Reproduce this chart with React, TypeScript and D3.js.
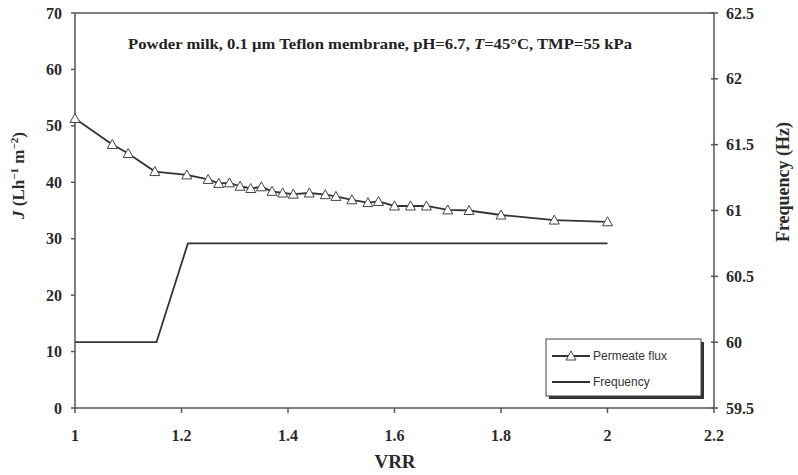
import React from "react";
import * as d3 from "d3";

const fluxVRR = [1.0, 1.07, 1.1, 1.15, 1.21, 1.25, 1.27, 1.29, 1.31, 1.33, 1.35, 1.37, 1.39, 1.41, 1.44, 1.47, 1.49, 1.52, 1.55, 1.57, 1.6, 1.63, 1.66, 1.7, 1.74, 1.8, 1.9, 2.0];
const fluxJ = [51.3, 46.7, 45.1, 41.9, 41.3, 40.5, 39.8, 39.9, 39.3, 38.9, 39.2, 38.4, 38.1, 37.9, 38.1, 37.8, 37.5, 36.9, 36.4, 36.6, 35.8, 35.8, 35.8, 35.1, 35.0, 34.2, 33.3, 33.0];
const freqVRR = [1.0, 1.153, 1.212, 2.0];
const freqHz = [60, 60, 60.75, 60.75];
const xTicks = [1, 1.2, 1.4, 1.6, 1.8, 2, 2.2];
const yLeftTicks = [0, 10, 20, 30, 40, 50, 60, 70];
const yRightTicks = [59.5, 60, 60.5, 61, 61.5, 62, 62.5];

const W = 798, H = 475;
const L = 75, R = 714, T = 13, B = 408;

export default function App() {
  const x = d3.scaleLinear().domain([1, 2.2]).range([L, R]);
  const yL = d3.scaleLinear().domain([0, 70]).range([B, T]);
  const yR = d3.scaleLinear().domain([59.5, 62.5]).range([B, T]);
  const flux = fluxVRR.map((v, i) => [v, fluxJ[i]] as [number, number]);
  const freq = freqVRR.map((v, i) => [v, freqHz[i]] as [number, number]);
  const fluxLine = d3.line<[number, number]>().x(d => x(d[0])).y(d => yL(d[1]))(flux) || "";
  const freqLine = d3.line<[number, number]>().x(d => x(d[0])).y(d => yR(d[1]))(freq) || "";
  const tri = (cx: number, cy: number, s = 5) => `M${cx},${cy - s}L${cx + s},${cy + s * 0.8}L${cx - s},${cy + s * 0.8}Z`;
  const serif = "'Liberation Serif', 'Times New Roman', serif";
  const sans = "'Liberation Sans', Arial, sans-serif";
  const axisColor = "#555";
  const lineColor = "#333";
  const tickFs = 16;
  return (
    <svg width={W} height={H} style={{ position: "absolute", left: 0, top: 0, background: "#fff" }}>
      <rect x={0} y={0} width={W} height={H} fill="#fff" />
      <line x1={L} y1={T} x2={R} y2={T} stroke={axisColor} strokeWidth={1.5} />
      <line x1={L} y1={B} x2={R} y2={B} stroke={axisColor} strokeWidth={1.5} />
      <line x1={L} y1={T} x2={L} y2={B} stroke={axisColor} strokeWidth={1.5} />
      <line x1={R} y1={T} x2={R} y2={B} stroke={axisColor} strokeWidth={1.5} />
      {yLeftTicks.map(t => (
        <g key={"l" + t}>
          <line x1={L - 4} x2={L} y1={yL(t)} y2={yL(t)} stroke={axisColor} strokeWidth={1.5} />
          <text x={L - 13} y={yL(t)} dy="0.35em" textAnchor="end" fontFamily={serif} fontWeight="bold" fontSize={tickFs} fill="#2a2a2a">{t}</text>
        </g>
      ))}
      {yRightTicks.map(t => (
        <g key={"r" + t}>
          <line x1={R - 3} x2={R + 4} y1={yR(t)} y2={yR(t)} stroke={axisColor} strokeWidth={1.5} />
          <text x={R + 12} y={yR(t)} dy="0.35em" textAnchor="start" fontFamily={serif} fontWeight="bold" fontSize={tickFs} fill="#2a2a2a">{t}</text>
        </g>
      ))}
      {xTicks.map(t => (
        <g key={"x" + t}>
          <line x1={x(t)} x2={x(t)} y1={B} y2={B + 5} stroke={axisColor} strokeWidth={1.5} />
          <text x={x(t)} y={441} textAnchor="middle" fontFamily={serif} fontWeight="bold" fontSize={tickFs} fill="#2a2a2a">{t}</text>
        </g>
      ))}
      <text x={395} y={468} textAnchor="middle" fontFamily={serif} fontWeight="bold" fontSize={19} fill="#2a2a2a">VRR</text>
      <text transform={`translate(24,${(T + B) / 2 - 35}) rotate(-90)`} textAnchor="middle" fontFamily={serif} fontWeight="bold" fontSize={17} fill="#2a2a2a">
        <tspan fontStyle="italic">J</tspan> (Lh<tspan dy="-6" fontSize={11}>−1</tspan><tspan dy="6"> m</tspan><tspan dy="-6" fontSize={11}>−2</tspan><tspan dy="6">)</tspan>
      </text>
      <text transform={`translate(789,182) rotate(-90)`} textAnchor="middle" fontFamily={serif} fontWeight="bold" fontSize={18} fill="#2a2a2a">Frequency (Hz)</text>
      <text x={380} y={49} textAnchor="middle" fontFamily={serif} fontWeight="bold" fontSize={14} fill="#222" textLength={504} lengthAdjust="spacingAndGlyphs">
        Powder milk, 0.1 μm Teflon membrane, pH=6.7, <tspan fontStyle="italic">T</tspan>=45°C, TMP=55 kPa
      </text>
      <path d={freqLine} fill="none" stroke={lineColor} strokeWidth={1.8} />
      <path d={fluxLine} fill="none" stroke={lineColor} strokeWidth={1.8} />
      {flux.map((d, i) => (
        <path key={"p" + i} d={tri(x(d[0]), yL(d[1]))} fill="#fff" stroke="#444" strokeWidth={1} />
      ))}
      <rect x={549} y={342} width={155} height={57} fill="#333" />
      <rect x={546} y={339} width={155} height={57} fill="#fff" stroke="#444" strokeWidth={1} />
      <line x1={552} x2={590} y1={356} y2={356} stroke={lineColor} strokeWidth={1.8} />
      <path d={tri(571, 356)} fill="#fff" stroke="#444" strokeWidth={1} />
      <text x={593} y={360} fontFamily={sans} fontSize={12} fill="#333">Permeate flux</text>
      <line x1={552} x2={590} y1={382} y2={382} stroke={lineColor} strokeWidth={1.8} />
      <text x={593} y={386} fontFamily={sans} fontSize={12} fill="#333">Frequency</text>
    </svg>
  );
}
